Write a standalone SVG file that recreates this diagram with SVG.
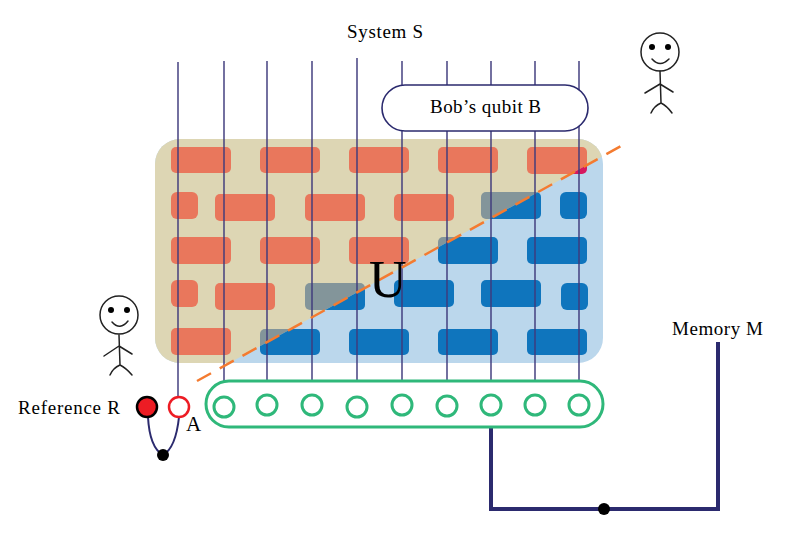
<svg xmlns="http://www.w3.org/2000/svg" width="791" height="548" viewBox="0 0 791 548">
<style>
text{font-family:"Liberation Serif","Times New Roman",serif;fill:#000;font-size:19px}
.wire{stroke:#3F3B7C;stroke-width:1.6;fill:none;opacity:.9}
.o{fill:#E9775C}.g{fill:#83959A}.b{fill:#0F75BD}.m{fill:#D6185F}
.q{fill:#fff;stroke:#2FB87A;stroke-width:3}
.stick{fill:none;stroke:#222;stroke-width:1.5;stroke-linecap:round;stroke-linejoin:round}
.navy{fill:none;stroke:#2B2A6E;stroke-width:4}
</style>
<defs>
<clipPath id="above"><polygon points="100,434.7 640,135.6 640,100 100,100"/></clipPath>
<clipPath id="below"><polygon points="100,434.7 640,135.6 640,400 100,400"/></clipPath>
<rect id="panel" x="155" y="139" width="448" height="224" rx="25"/>
<g id="lightBricks">
<rect x="171" y="147" width="60" height="26" rx="5"/><rect x="260" y="147" width="60" height="26" rx="5"/><rect x="349" y="147" width="60" height="26" rx="5"/><rect x="438" y="147" width="60" height="26" rx="5"/>
<rect x="171" y="192" width="27" height="27" rx="6"/><rect x="215" y="194" width="60" height="27" rx="5"/><rect x="305" y="194" width="60" height="27" rx="5"/><rect x="394" y="194" width="60" height="27" rx="5"/>
<rect x="171" y="237" width="60" height="27" rx="5"/><rect x="260" y="237" width="60" height="27" rx="5"/><rect x="349" y="237" width="60" height="27" rx="5"/>
<rect x="171" y="280" width="27" height="27" rx="6"/><rect x="215" y="283" width="60" height="27" rx="5"/>
<rect x="171" y="328" width="60" height="27" rx="5"/>
</g>
<g id="splitBricks">
<rect x="481" y="192" width="60" height="27" rx="5"/><rect x="438" y="237" width="60" height="27" rx="5"/><rect x="305" y="283" width="60" height="27" rx="5"/><rect x="260" y="329" width="60" height="26" rx="5"/>
</g>
<g id="darkBricks">
<rect x="560" y="192" width="27" height="27" rx="6"/><rect x="527" y="237" width="60" height="27" rx="5"/><rect x="394" y="280" width="60" height="27" rx="5"/><rect x="481" y="280" width="60" height="27" rx="5"/><rect x="561" y="283" width="27" height="27" rx="6"/><rect x="349" y="329" width="60" height="26" rx="5"/><rect x="438" y="329" width="60" height="26" rx="5"/><rect x="527" y="329" width="60" height="26" rx="5"/>
</g>
<rect id="cornerBrick" x="527" y="147" width="60" height="27" rx="5"/>
</defs>

<g id="circuit">
<use href="#panel" fill="#BBD7EC"/>
<use href="#panel" fill="#DDD6B4" clip-path="url(#above)"/>
<g class="o"><use href="#lightBricks"/></g>
<g class="g" clip-path="url(#above)"><use href="#splitBricks"/></g>
<g class="b" clip-path="url(#below)"><use href="#splitBricks"/></g>
<g class="b"><use href="#darkBricks"/></g>
<g class="o" clip-path="url(#above)"><use href="#cornerBrick"/></g>
<g class="m" clip-path="url(#below)"><use href="#cornerBrick"/></g>
</g>

<g id="connectors">
<path class="wire" d="M178 62V398M224 61V381M267 61V381M312 61V381M357 58V381M402 61V381M447 61V381M491 61V381M535 61V381M579 61V381"/>
<path d="M197 381L623 145" fill="none" stroke="#F47B30" stroke-width="2.5" stroke-dasharray="16 10"/>
<path d="M148 417C149 436 154 450 163 455C172 450 177 436 179 417" fill="none" stroke="#2B2A6E" stroke-width="2"/>
<path class="navy" d="M491 427V509H718V342"/>
</g>

<g id="bob-qubit">
<rect x="382" y="85" width="206" height="46" rx="23" fill="#fff" stroke="#2B2A6E" stroke-width="1.6"/>
<text x="430" y="113" textLength="111">Bob’s qubit B</text>
</g>

<g id="memory-register">
<rect x="206" y="381" width="397" height="46" rx="23" fill="#fff" stroke="#2FB87A" stroke-width="3"/>
<circle class="q" cx="224" cy="407" r="10"/><circle class="q" cx="267" cy="405" r="10"/><circle class="q" cx="312" cy="405" r="10"/><circle class="q" cx="357" cy="407" r="10"/><circle class="q" cx="402" cy="405" r="10"/><circle class="q" cx="447" cy="406" r="10"/><circle class="q" cx="491" cy="405" r="10"/><circle class="q" cx="535" cy="405" r="10"/><circle class="q" cx="579" cy="405" r="10"/>
</g>

<g id="reference">
<circle cx="147" cy="407" r="10" fill="#ED1C24" stroke="#000" stroke-width="2.5"/>
<text x="18" y="414" textLength="102">Reference R</text>
</g>
<g id="qubit-a">
<circle cx="179" cy="407" r="10" fill="#fff" stroke="#ED1C24" stroke-width="2.5"/>
<text x="186" y="431" style="font-size:21px">A</text>
</g>
<circle id="bell-dot" cx="163" cy="455" r="6" fill="#000"/>
<circle id="memory-dot" cx="604" cy="509" r="6" fill="#000"/>

<text id="label-system" x="347" y="38" textLength="76">System S</text>
<text id="label-memory" x="672" y="335" textLength="91">Memory M</text>
<text id="label-u" x="369" y="297" style="font-size:52px">U</text>

<g id="person-bob" class="stick">
<circle cx="660" cy="52" r="19"/>
<circle cx="652" cy="47" r="3" fill="#000" stroke="none"/><circle cx="668" cy="47" r="3" fill="#000" stroke="none"/>
<path d="M652 59Q660 68 669 59M660 71L661 103M645 93L660 84L673 92M651 113Q654 106 661 103Q667 106 672 113"/>
</g>
<g id="person-reference" class="stick">
<circle cx="119" cy="315" r="19"/>
<circle cx="111" cy="310" r="3" fill="#000" stroke="none"/><circle cx="127" cy="310" r="3" fill="#000" stroke="none"/>
<path d="M112 322Q120 331 128 321M119 335L120 365M104 356L119 346L132 354M110 375Q113 368 120 365Q126 368 132 375"/>
</g>
</svg>
